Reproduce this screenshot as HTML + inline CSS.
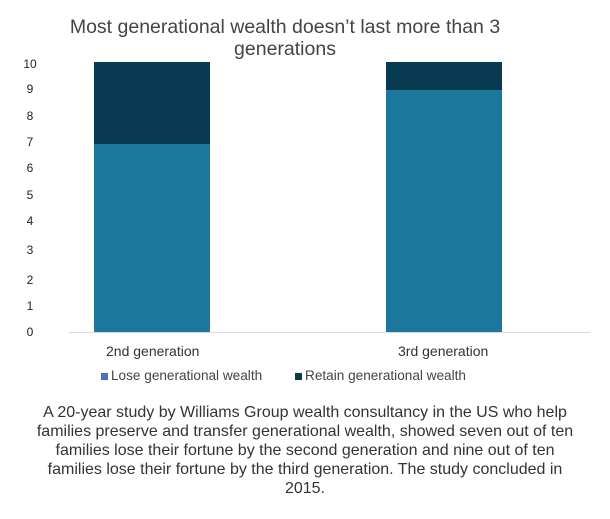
<!DOCTYPE html>
<html><head><style>
body{margin:0;width:610px;height:519px;background:#fff;font-family:"Liberation Sans",sans-serif;position:relative;overflow:hidden}
.a{position:absolute}
.t{font-size:12px;color:#222;width:20px;text-align:center;left:20px}
</style></head><body>
<div class="a" style="left:35px;top:16px;width:500px;text-align:center;font-size:19.5px;color:#444;line-height:22px">Most generational wealth doesn’t last more than 3<br>generations</div>
<div class="a t" style="top:57px">10</div>
<div class="a t" style="top:82px">9</div>
<div class="a t" style="top:109px">8</div>
<div class="a t" style="top:135px">7</div>
<div class="a t" style="top:161px">6</div>
<div class="a t" style="top:188px">5</div>
<div class="a t" style="top:214px">4</div>
<div class="a t" style="top:243px">3</div>
<div class="a t" style="top:273px">2</div>
<div class="a t" style="top:299px">1</div>
<div class="a t" style="top:325px">0</div>
<div class="a" style="left:94px;top:62px;width:116px;height:82px;background:#083a51"></div>
<div class="a" style="left:94px;top:144px;width:116px;height:188px;background:#1b779b"></div>
<div class="a" style="left:386px;top:62px;width:116px;height:28px;background:#083a51"></div>
<div class="a" style="left:386px;top:90px;width:116px;height:242px;background:#1b779b"></div>
<div class="a" style="left:69px;top:332px;width:521px;height:1px;background:#d9d9d9"></div>
<div class="a" style="left:106px;top:343px;font-size:14px;color:#333">2nd generation</div>
<div class="a" style="left:398px;top:343px;font-size:14px;color:#333">3rd generation</div>
<div class="a" style="left:101px;top:373px;width:7px;height:7px;background:#4472c4"></div>
<div class="a" style="left:111px;top:368px;font-size:13.6px;color:#444">Lose generational wealth</div>
<div class="a" style="left:295px;top:373px;width:7px;height:7px;background:#083a51"></div>
<div class="a" style="left:305px;top:368px;font-size:13.6px;color:#444">Retain generational wealth</div>
<div class="a" style="left:35px;top:403px;width:540px;text-align:center;font-size:16px;line-height:19px;color:#333">A 20-year study by Williams Group wealth consultancy in the US who help families preserve and transfer generational wealth, showed seven out of ten families lose their fortune by the second generation and nine out of ten families lose their fortune by the third generation. The study concluded in 2015.</div>
</body></html>
